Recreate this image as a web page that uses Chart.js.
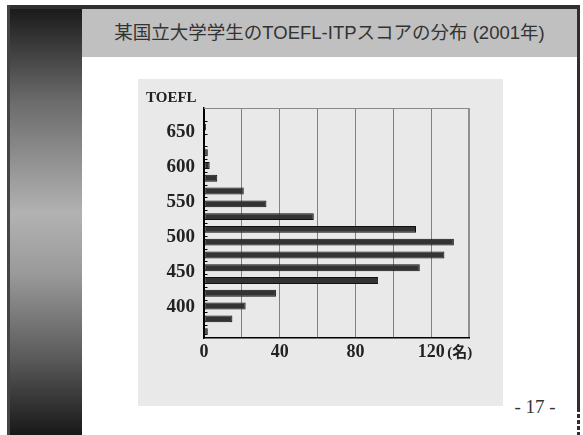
<!DOCTYPE html>
<html>
<head>
<meta charset="utf-8">
<script src="https://cdn.jsdelivr.net/npm/chart.js@4/dist/chart.umd.min.js"></script>
<style>
  html, body { margin: 0; padding: 0; background: #fff; }
  body { width: 583px; height: 435px; position: relative; overflow: hidden; }
  .abs { position: absolute; }
  #topline { left: 7px; top: 5px; width: 573px; height: 4px; background: #2f2f2f; }
  #leftline { left: 7px; top: 5px; width: 3px; height: 430px; background: #444; }
  #rightline { left: 577px; top: 5px; width: 3px; height: 403px; background: #2f2f2f; }
  #rightdash { left: 577px; top: 408px; width: 3px; height: 27px;
    background: repeating-linear-gradient(to bottom, #2f2f2f 0 4px, #fff 4px 6px); }
  #panel { left: 10px; top: 9px; width: 72px; height: 426px;
    background: linear-gradient(to bottom, #1b1b1b 0%, #6c6c6c 22%, #b2b2b2 48%, #9a9a9a 62%, #5a5a5a 82%, #181818 100%); }
  #titlebar { left: 82px; top: 9px; width: 495px; height: 48px; background: #c0c0c0; }
  #titletext { left: 82px; top: 9px; width: 495px; height: 48px; line-height: 48px; text-align: center;
    font-family: "Liberation Sans", "Noto Sans CJK JP", sans-serif; font-size: 18.5px; color: #333; white-space: nowrap; }
  #chartbox { left: 138px; top: 79px; width: 365px; height: 327px; background: #e9e9e9; }
  #page { left: 505px; top: 394px; width: 60px; height: 26px; line-height: 26px; text-align: center;
    font-family: "Liberation Serif", serif; font-size: 19px; color: #333; white-space: nowrap; }
</style>
</head>
<body>
<div class="abs" id="panel"></div>
<div class="abs" id="topline"></div>
<div class="abs" id="leftline"></div>
<div class="abs" id="rightline"></div>
<div class="abs" id="rightdash"></div>
<div class="abs" id="titlebar"></div>
<div class="abs" id="titletext">某国立大学学生のTOEFL-ITPスコアの分布 (2001年)</div>
<div class="abs" id="chartbox"><canvas id="c" width="365" height="327"></canvas></div>
<div class="abs" id="page">- 17 -</div>
<script>
// Score bins (approximate centres, top to bottom)
const scoreBins = ['675','657','639','620','602','584','566','548','529','511','493','475','457','438','420','402','384','366'];
// Number of students per bin
const studentCounts = [0, 1, 0, 2, 3, 7, 21, 33, 58, 112, 132, 127, 114, 92, 38, 22, 15, 2];
// Tick labels
const scoreTickLabels = [400, 450, 500, 550, 600, 650];
const countTickLabels = [0, 40, 80, 120];
const yAxisTitle = 'TOEFL';
const xUnit = '(名)';

const serif = '"Liberation Serif", "Times New Roman", serif';
const SCORE_MIN = 355.3, SCORE_MAX = 683.9;

const extras = {
  id: 'extras',
  afterDraw(chart) {
    const ctx = chart.ctx;
    const a = chart.chartArea;
    const y = chart.scales.y;
    const x = chart.scales.x;
    ctx.save();
    // top border of plot
    ctx.strokeStyle = '#8a8a8a';
    ctx.lineWidth = 1;
    ctx.beginPath();
    ctx.moveTo(a.left, Math.round(a.top) + 0.5);
    ctx.lineTo(a.right, Math.round(a.top) + 0.5);
    ctx.stroke();
    // small inner tick marks at bin boundaries
    const step = y.getPixelForValue(1) - y.getPixelForValue(0);
    ctx.strokeStyle = '#000';
    ctx.beginPath();
    for (let i = 1; i < scoreBins.length; i++) {
      const py = Math.round(y.getPixelForValue(i) - step / 2) + 0.5;
      ctx.moveTo(a.left, py);
      ctx.lineTo(a.left + 3.5, py);
    }
    ctx.stroke();
    // unit label after the last count label
    const last = countTickLabels[countTickLabels.length - 1];
    ctx.font = 'bold 15px ' + serif + ', "Noto Sans CJK JP"';
    ctx.fillStyle = '#222';
    ctx.textAlign = 'left';
    ctx.textBaseline = 'middle';
    ctx.fillText(xUnit, x.getPixelForValue(last) + 16, a.bottom + 15);
    ctx.restore();
  }
};

new Chart(document.getElementById('c'), {
  type: 'bar',
  data: {
    labels: scoreBins,
    datasets: [{
      data: studentCounts,
      backgroundColor: '#333333',
      borderColor: '#111111',
      borderWidth: 1,
      borderSkipped: false,
      barPercentage: 0.54,
      categoryPercentage: 1.0,
      yAxisID: 'y'
    }]
  },
  options: {
    indexAxis: 'y',
    responsive: false,
    animation: false,
    events: [],
    layout: { padding: { left: 8, right: 34, top: 0, bottom: 0 } },
    plugins: {
      legend: { display: false },
      tooltip: { enabled: false },
      title: {
        display: true,
        text: yAxisTitle,
        align: 'start',
        color: '#222',
        font: { family: serif, size: 15, weight: 'bold', lineHeight: 1.2 },
        padding: { top: 10, bottom: 1 }
      }
    },
    scales: {
      x: {
        type: 'linear',
        min: 0,
        max: 140,
        afterBuildTicks(s) { s.ticks = [0, 20, 40, 60, 80, 100, 120, 140].map(v => ({ value: v })); },
        afterFit(s) { s.height = 68; },
        grid: {
          drawTicks: false,
          color: c => (c.tick && c.tick.value === 0) ? '#000' : (c.tick && c.tick.value === 140 ? '#8f8f8f' : '#808080'),
          lineWidth: c => (c.tick && c.tick.value === 140) ? 2 : 1
        },
        border: { display: true, color: '#000', width: 1.5 },
        ticks: {
          padding: 4,
          color: '#222',
          font: { family: serif, size: 18, weight: 'bold' },
          callback: v => countTickLabels.includes(v) ? String(v) : ''
        }
      },
      y: {
        type: 'category',
        display: false,
        offset: true,
        grid: { offset: true }
      },
      y2: {
        type: 'linear',
        axis: 'y',
        position: 'left',
        offset: false,
        bounds: 'data',
        min: SCORE_MIN,
        max: SCORE_MAX,
        afterBuildTicks(s) {
          s.ticks = scoreTickLabels.map(v => ({ value: v }));
          s.min = SCORE_MIN;
          s.max = SCORE_MAX;
        },
        afterFit(s) { s.width = 58; },
        grid: { display: false, drawTicks: false, offset: false },
        border: { display: true, color: '#000', width: 1.5 },
        ticks: {
          padding: 9,
          color: '#222',
          font: { family: serif, size: 19, weight: 'bold' }
        }
      }
    }
  },
  plugins: [extras]
});
</script>
</body>
</html>
